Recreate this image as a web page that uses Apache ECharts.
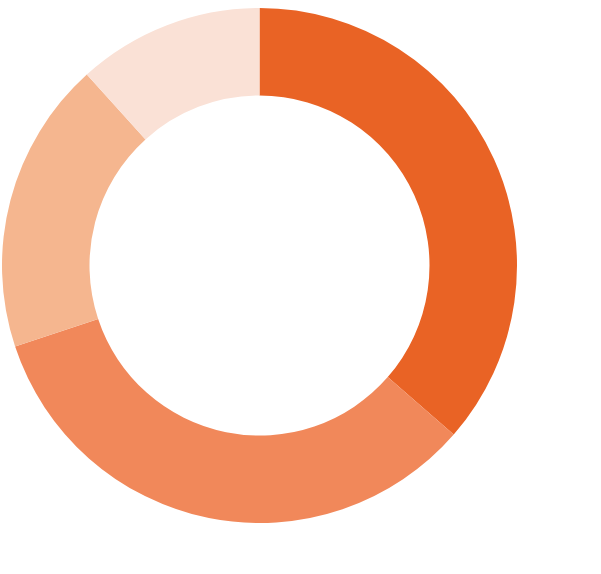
<!DOCTYPE html>
<html>
<head>
<meta charset="utf-8">
<script src="https://cdn.jsdelivr.net/npm/echarts@6/dist/echarts.min.js"></script>
<style>
  html, body { margin: 0; padding: 0; background: #fff; }
  #chart { width: 601px; height: 574px; }
</style>
</head>
<body>
<div id="chart"></div>
<script>
const categories = ['A', 'B', 'C', 'D']
const values = [36.4, 33.5, 18.4, 11.7]
const colors = ['#E96325', '#F1885A', '#F5B68F', '#FAE1D6']

const chart = echarts.init(document.getElementById('chart'), null, { renderer: 'svg' })

chart.setOption({
  animation: false,
  backgroundColor: '#ffffff',
  series: [
    {
      type: 'pie',
      center: [259.5, 265.5],
      radius: [170, 257.5],
      startAngle: 90,
      clockwise: true,
      label: { show: false },
      labelLine: { show: false },
      itemStyle: { borderWidth: 0 },
      emphasis: { disabled: true },
      data: categories.map((name, i) => ({
        name,
        value: values[i],
        itemStyle: { color: colors[i] },
      })),
    },
  ],
})
</script>
</body>
</html>
